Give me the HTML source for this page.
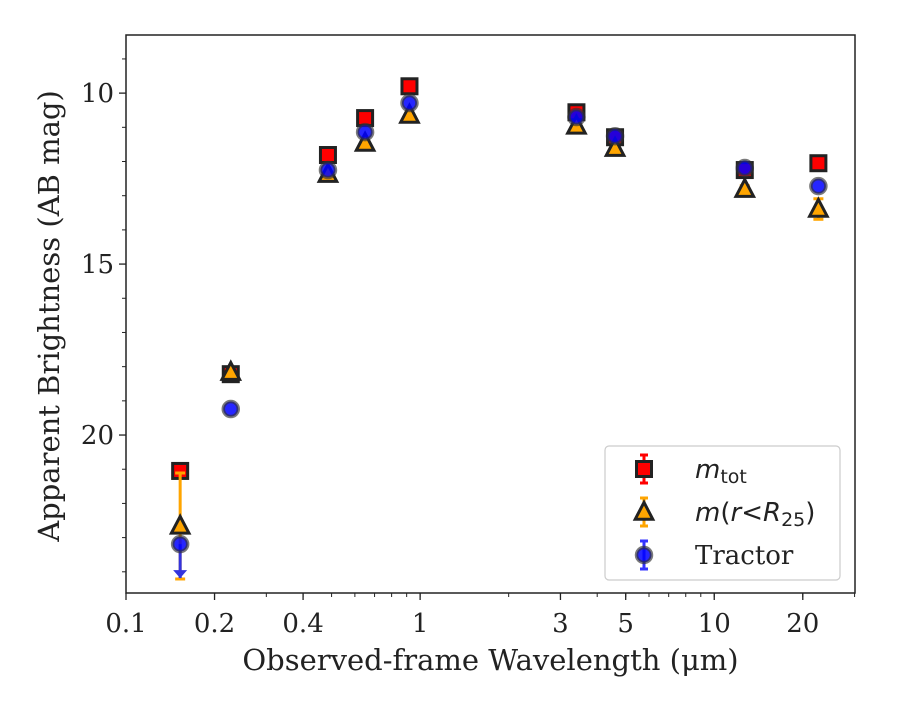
<!DOCTYPE html>
<html><head><meta charset="utf-8"><style>
body{margin:0;background:#fff}
svg text{font-family:"DejaVu Serif","Liberation Serif",serif;fill:#222}
</style></head><body>
<svg id="c" width="900" height="700" xmlns="http://www.w3.org/2000/svg"></svg>
<script>
const wavelengths=[0.1528,0.2271,0.486,0.65,0.92,3.4,4.6,12.7,22.6];
const mTot=[21.05,18.22,11.81,10.73,9.80,10.56,11.29,12.25,12.05];
const mR25=[22.66,18.16,12.37,11.46,10.64,10.96,11.61,12.81,13.39];
const mR25Err=[1.55,0.05,0.05,0.05,0.05,0.05,0.05,0.1,0.3];
const mTractor=[23.19,19.24,12.25,11.14,10.29,10.70,11.26,12.19,12.72];
const tractorUpperLimit=[true,false,false,false,false,false,false,false,false];
const yTicks=[10,15,20];
const xTicks=[0.1,0.2,0.4,1,3,5,10,20];
const xTickLabels=["0.1","0.2","0.4","1","3","5","10","20"];

const NS="http://www.w3.org/2000/svg";
const svg=document.getElementById('c');
const L=126,R=855,T=35,B=593;
const xmin=0.1,xmax=30.1,ymin=8.30,ymax=24.62;
const X=v=>L+(Math.log10(v)-Math.log10(xmin))/(Math.log10(xmax)-Math.log10(xmin))*(R-L);
const Y=v=>T+(v-ymin)/(ymax-ymin)*(B-T);
function el(t,a,p){const e=document.createElementNS(NS,t);for(const k in a)e.setAttribute(k,a[k]);(p||svg).appendChild(e);return e;}

const frame=el('rect',{x:L,y:T,width:R-L,height:B-T,fill:'none',stroke:'#222','stroke-width':1.5});



yTicks.forEach(v=>{
  const y=Y(v);
  el('line',{x1:L-7,x2:L,y1:y,y2:y,stroke:'#222','stroke-width':1.3});
  const t=el('text',{x:L-12,y:y+9,'text-anchor':'end','font-size':26});
  t.textContent=v;
  
  
});
for(let v=9;v<=24;v++){ if(v%5){const y=Y(v);el('line',{x1:L-4,x2:L,y1:y,y2:y,stroke:'#222','stroke-width':1});} }
[0.1,1,10].forEach(d=>{for(let k=1;k<10;k++){const v=d*k;if(v<=xmax){const x=X(v);el('line',{x1:x,x2:x,y1:B,y2:B+4,stroke:'#222','stroke-width':1});}}});
xTicks.forEach((v,i)=>{
  const x=X(v);
  el('line',{x1:x,x2:x,y1:B,y2:B+7,stroke:'#222','stroke-width':1.3});
  const t=el('text',{x:x,y:B+39,'text-anchor':'middle','font-size':26});
  t.textContent=xTickLabels[i];
  
  
});
const xt=el('text',{x:(L+R)/2,y:670,'text-anchor':'middle','font-size':29});
xt.textContent='Observed-frame Wavelength (μm)';


const yt=el('text',{x:0,y:0,'text-anchor':'middle','font-size':29,transform:`translate(59,${(T+B)/2+2}) rotate(-90)`});
yt.textContent='Apparent Brightness (AB mag)';



function square(x,y,s,g){el('rect',{x:x-s/2,y:y-s/2,width:s,height:s,fill:'#f00',stroke:'#222','stroke-width':3},g);}
function tri(x,y,s,g){el('polygon',{points:`${x},${y-s*0.6} ${x-s*0.55},${y+s*0.45} ${x+s*0.55},${y+s*0.45}`,fill:'#ffa500',stroke:'#222','stroke-width':3},g);}
function circ(x,y,r,g){el('circle',{cx:x,cy:y,r:r,fill:'#00f',stroke:'#333','stroke-width':3.5,'fill-opacity':0.85,'stroke-opacity':0.65},g);}

const gTot=el('g',{});


wavelengths.forEach((w,i)=>square(X(w),Y(mTot[i]),15,gTot));
const gR=el('g',{});


wavelengths.forEach((w,i)=>{
  const x=X(w),e=mR25Err[i];
  if(e>0.08){el('line',{x1:x,x2:x,y1:Y(mR25[i]-e),y2:Y(mR25[i]+e),stroke:'#ffa500','stroke-width':3},gR);
    [mR25[i]-e,mR25[i]+e].forEach(v=>el('line',{x1:x-5,x2:x+5,y1:Y(v),y2:Y(v),stroke:'#ffa500','stroke-width':3},gR));}
  tri(x,Y(mR25[i]),16,gR);
});
const gT=el('g',{});


wavelengths.forEach((w,i)=>{
  const x=X(w),y=Y(mTractor[i]);
  if(tractorUpperLimit[i]){const y2=y+34;
    el('line',{x1:x,x2:x,y1:y,y2:y2,stroke:'#3333dd','stroke-width':3},gT);
    el('polygon',{points:`${x-7},${y2-8} ${x+7},${y2-8} ${x},${y2}`,fill:'#3333dd'},gT);}
  circ(x,y,7.5,gT);
});

const lg=el('g',{});


el('rect',{x:605,y:446,width:235,height:134,rx:4,fill:'#fff',stroke:'#ccc','stroke-width':1.2},lg);
[469,512,555].forEach((y,i)=>{
  const x=644;
  const col=['#f00','#ffa500','#33f'][i];
  el('line',{x1:x,x2:x,y1:y-14,y2:y+14,stroke:col,'stroke-width':3},lg);
  el('line',{x1:x-4,x2:x+4,y1:y-14,y2:y-14,stroke:col,'stroke-width':3},lg);
  el('line',{x1:x-4,x2:x+4,y1:y+14,y2:y+14,stroke:col,'stroke-width':3},lg);
  if(i==0)square(x,y,15,lg);
  if(i==1)tri(x,y,16,lg);
  if(i==2)circ(x,y,7.5,lg);
  const t=el('text',{x:695,y:y+9,'font-size':26},lg);
  
  
  if(i==0){t.innerHTML='<tspan font-style="italic" font-family="DejaVu Sans">m</tspan><tspan font-family="DejaVu Sans" font-size="19" dy="5">tot</tspan>';}
  else if(i==1){t.innerHTML='<tspan font-family="DejaVu Sans" font-style="italic">m</tspan><tspan font-family="DejaVu Sans">(</tspan><tspan font-family="DejaVu Sans" font-style="italic">r</tspan><tspan font-family="DejaVu Sans">&lt;</tspan><tspan font-family="DejaVu Sans" font-style="italic">R</tspan><tspan font-family="DejaVu Sans" font-size="19" dy="5">25</tspan><tspan font-family="DejaVu Sans" dy="-5">)</tspan>';}
  else t.textContent='Tractor';
});
</script>
</body></html>
